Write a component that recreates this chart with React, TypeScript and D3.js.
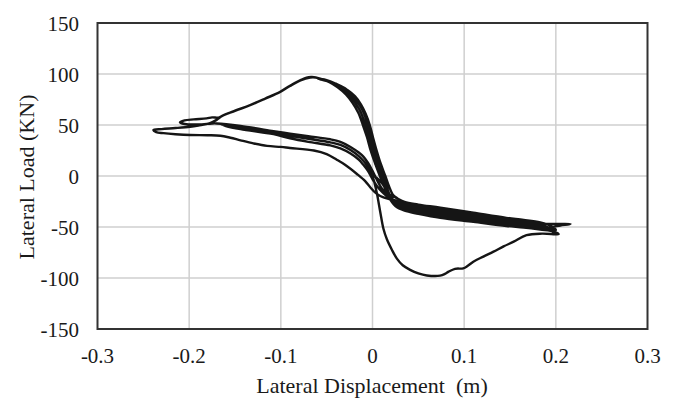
import React from "react";
import * as d3 from "d3";

type Pt = [number, number];

// Tick values
const xTicks = [-0.3, -0.2, -0.1, 0, 0.1, 0.2, 0.3];
const yTicks = [-150, -100, -50, 0, 50, 100, 150];

// Load history: [displacement (m), load (kN)]
const initialPush: Pt[] = [
  [0, 0], [0.002, -6], [0.005, -18], [0.0084, -35], [0.012, -52], [0.0157, -62],
  [0.021, -72], [0.0266, -81], [0.033, -87.5], [0.041, -92], [0.05, -95.5],
  [0.0593, -97.5], [0.0738, -97.7], [0.079, -96], [0.083, -93.8], [0.09, -91],
  [0.099, -90.5], [0.104, -88], [0.11, -84], [0.121, -79], [0.132, -74.2],
  [0.143, -69], [0.154, -64.4], [0.168, -58], [0.185, -56.5], [0.203, -57],
];

const cycle1Return: Pt[] = [
  [0.198, -54.5], [0.183, -52.5], [0.165, -50.5], [0.146, -49], [0.11, -45],
  [0.074, -41], [0.05, -37], [0.035, -34], [0.025, -29.5], [0.018, -21],
  [0.013, -10], [0.008, 0], [0.003, 12], [-0.002, 25], [-0.006, 38],
  [-0.0105, 50], [-0.0155, 62], [-0.022, 72], [-0.029, 80], [-0.038, 87],
  [-0.047, 92], [-0.057, 95.5], [-0.066, 97], [-0.072, 96.5], [-0.0785, 94],
  [-0.09, 88.5], [-0.1007, 82.6], [-0.117, 76], [-0.1335, 69.6], [-0.15, 64],
  [-0.164, 59], [-0.168, 57.2], [-0.175, 57.5], [-0.181, 56.5], [-0.195, 55.5],
  [-0.205, 54.5], [-0.21, 52.6],
];

const cycle2Push: Pt[] = [
  [-0.205, 51], [-0.19, 50.5], [-0.175, 51.5], [-0.17, 51.5], [-0.144, 49],
  [-0.108, 44], [-0.09, 41.5], [-0.07, 39], [-0.046, 36], [-0.035, 33.5],
  [-0.024, 28.5], [-0.015, 23], [-0.01, 19], [-0.005, 13], [0, 5],
  [0.005, -4], [0.01, -12], [0.016, -17], [0.025, -21], [0.035, -25.5],
  [0.05, -28], [0.074, -31], [0.11, -36], [0.146, -41], [0.165, -43],
  [0.183, -45.5], [0.195, -49], [0.2, -53],
];

const cycle2Return: Pt[] = [
  [0.192, -51.5], [0.183, -49.5], [0.165, -47.5], [0.146, -46], [0.11, -42],
  [0.074, -37], [0.05, -34], [0.035, -31.5], [0.025, -27], [0.019, -19],
  [0.015, -9], [0.012, 0], [0.007, 12], [0.002, 25], [-0.002, 38],
  [-0.0055, 50], [-0.0095, 62], [-0.0155, 71.5], [-0.022, 79.5], [-0.03, 86],
  [-0.04, 90.5], [-0.05, 94], [-0.06, 95.5],
];

const cycle3Push: Pt[] = [
  [-0.056, 94.5], [-0.047, 92.5], [-0.037, 89], [-0.027, 84], [-0.019, 78],
  [-0.0125, 70], [-0.0075, 61], [-0.003, 50], [0.0005, 38], [0.0045, 25],
  [0.009, 12], [0.014, 0], [0.018, -10], [0.022, -18], [0.028, -22.5],
  [0.035, -27], [0.05, -29.5], [0.074, -32.5], [0.11, -37.5], [0.146, -42],
  [0.165, -44], [0.183, -46.5], [0.2, -47], [0.216, -47],
];

const cycle3Return: Pt[] = [
  [0.205, -48.5], [0.195, -50], [0.183, -51], [0.165, -49], [0.146, -47.5],
  [0.11, -43.5], [0.074, -39], [0.05, -35.5], [0.035, -33], [0.025, -28.5],
  [0.018, -20], [0.014, -10], [0.01, 0], [0.005, 12], [0.0005, 25],
  [-0.004, 38], [-0.008, 50], [-0.0125, 62], [-0.019, 72], [-0.0255, 80],
  [-0.034, 86.5], [-0.044, 91], [-0.054, 94.5], [-0.062, 96.5], [-0.068, 96.5],
  [-0.0785, 93.8], [-0.09, 88.3], [-0.1007, 82.4], [-0.117, 75.8], [-0.1335, 69.4],
  [-0.15, 63.8], [-0.164, 58.8], [-0.17, 55], [-0.178, 51.5], [-0.19, 49.5],
  [-0.199, 48.3], [-0.215, 47], [-0.23, 46], [-0.239, 45],
];

const cycle4Push: Pt[] = [
  [-0.236, 43], [-0.228, 42], [-0.215, 41], [-0.199, 40.2], [-0.18, 40],
  [-0.166, 39.5], [-0.155, 37.5], [-0.144, 35], [-0.13, 32], [-0.115, 29.5],
  [-0.1, 28.5], [-0.09, 27.5], [-0.064, 25], [-0.05, 21.5], [-0.039, 16],
  [-0.03, 11], [-0.017, 2], [-0.008, -5], [-0.0025, -11], [0.004, -17],
  [0.012, -21], [0.02, -23], [0.025, -24], [0.035, -28.5], [0.05, -31],
  [0.074, -34], [0.11, -39], [0.146, -43.5], [0.165, -45.5], [0.183, -47.5],
  [0.195, -52],
];

const cycle4Return: Pt[] = [
  [0.185, -49.5], [0.165, -46.5], [0.146, -44.5], [0.11, -40.5], [0.074, -35.5],
  [0.05, -32.5], [0.035, -30], [0.025, -25.5], [0.017, -17], [0.011, -8],
  [0.005, -2], [0, 1], [-0.005, 9], [-0.01, 15], [-0.015, 19.5],
  [-0.024, 25.5], [-0.035, 30.5], [-0.046, 33], [-0.07, 36.5], [-0.09, 39.5],
  [-0.108, 42.5], [-0.144, 47.5], [-0.165, 50.5],
];

const cycle5Push: Pt[] = [
  [-0.16, 49], [-0.144, 46], [-0.108, 41], [-0.09, 37], [-0.07, 33.5],
  [-0.046, 30], [-0.035, 27], [-0.024, 22], [-0.015, 16], [-0.01, 11],
  [-0.005, 5], [0, -3], [0.005, -10], [0.011, -16], [0.018, -21.5],
  [0.025, -26], [0.035, -31.5], [0.05, -34.5], [0.074, -38], [0.11, -42.5],
  [0.146, -46.5], [0.165, -48], [0.183, -50], [0.198, -55],
];

const segments: Pt[][] = [
  initialPush, cycle1Return, cycle2Push, cycle2Return, cycle3Push,
  cycle3Return, cycle4Push, cycle4Return, cycle5Push,
];

const W = 675;
const H = 399;

export default function App() {
  const x = d3.scaleLinear().domain([-0.3, 0.3]).range([97.5, 647.5]);
  const y = d3.scaleLinear().domain([-150, 150]).range([329, 23]);

  // Join the segments into one continuous trace
  const trace: Pt[] = [];
  segments.forEach((s) => s.forEach((p) => trace.push(p)));

  const line = d3
    .line<Pt>()
    .x((d) => x(d[0]))
    .y((d) => y(d[1]))
    .curve(d3.curveCatmullRom.alpha(0.5));

  const font = "'Liberation Serif', 'Times New Roman', serif";

  return (
    <svg
      width={W}
      height={H}
      style={{ position: "absolute", left: 0, top: 0, background: "#fff" }}
    >
      {/* grid */}
      {xTicks.slice(1, -1).map((t) => (
        <line key={"gx" + t} x1={x(t)} x2={x(t)} y1={y(150)} y2={y(-150)} stroke="#cfcfcf" strokeWidth={1.5} />
      ))}
      {yTicks.slice(1, -1).map((t) => (
        <line key={"gy" + t} x1={x(-0.3)} x2={x(0.3)} y1={y(t)} y2={y(t)} stroke="#cfcfcf" strokeWidth={1.5} />
      ))}
      {/* plot frame */}
      <rect
        x={x(-0.3)}
        y={y(150)}
        width={x(0.3) - x(-0.3)}
        height={y(-150) - y(150)}
        fill="none"
        stroke="#333"
        strokeWidth={2}
      />
      {/* hysteresis trace */}
      <path d={line(trace) || ""} fill="none" stroke="#151515" strokeWidth={2.4} strokeLinejoin="round" strokeLinecap="round" />

      {/* y tick labels */}
      {yTicks.map((t) => (
        <text key={"yl" + t} x={79} y={y(t) + 7.5} textAnchor="end" fontFamily={font} fontSize={21} fill="#1a1a1a">
          {t}
        </text>
      ))}
      {/* x tick labels */}
      {xTicks.map((t) => (
        <text key={"xl" + t} x={x(t)} y={362.5} textAnchor="middle" fontFamily={font} fontSize={21} fill="#1a1a1a">
          {t === 0 ? "0" : t.toString()}
        </text>
      ))}
      {/* axis titles */}
      <text x={372} y={393} textAnchor="middle" fontFamily={font} fontSize={22} fill="#1a1a1a" style={{ whiteSpace: "pre" }}>
        {"Lateral Displacement  (m)"}
      </text>
      <text
        transform="translate(34,177) rotate(-90)"
        textAnchor="middle"
        fontFamily={font}
        fontSize={22}
        fill="#1a1a1a"
      >
        Lateral Load (KN)
      </text>
    </svg>
  );
}
